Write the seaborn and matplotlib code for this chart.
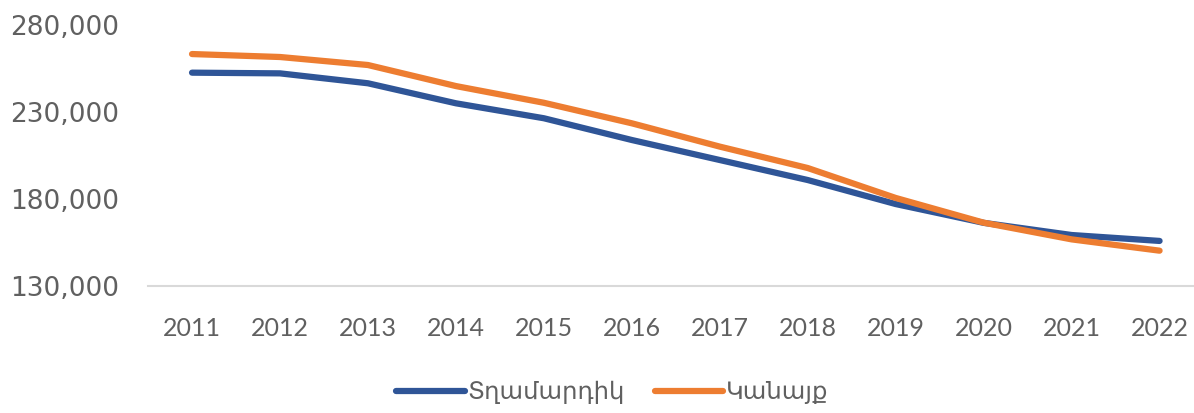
import matplotlib
matplotlib.use("Agg")
import matplotlib.pyplot as plt
import matplotlib.ticker as mticker
import seaborn as sns
import pandas as pd

years = ["2011", "2012", "2013", "2014", "2015", "2016", "2017", "2018", "2019", "2020", "2021", "2022"]
men = [252600, 252200, 246500, 235000, 226400, 213900, 202400, 190900, 177100, 166300, 159300, 155900]
women = [263300, 261600, 257000, 244900, 235300, 223500, 210100, 197800, 180600, 166400, 156800, 150300]
series_names = ["Տղամարդիկ", "Կանայք"]
colors = ["#2F5597", "#ED7D31"]

df = pd.DataFrame({
    "year": years * 2,
    "value": men + women,
    "series": [series_names[0]] * len(years) + [series_names[1]] * len(years),
})

sns.set_theme(style="white")
plt.rcParams["font.family"] = ["Lato", "DejaVu Sans"]

fig = plt.figure(figsize=(11.94, 4.13), dpi=100)
ax = fig.add_axes([0.124, 0.3075, 0.884, 0.632])

sns.lineplot(data=df, x="year", y="value", hue="series", palette=colors,
             linewidth=4.5, ax=ax, sort=False, legend=True)
for ln in ax.get_lines():
    ln.set_solid_capstyle("round")
    ln.set_solid_joinstyle("round")

ax.set_xlim(-0.5, 11.5)
ax.set_ylim(130000, 280000)
ax.set_yticks([130000, 180000, 230000, 280000])
ax.yaxis.set_major_formatter(mticker.FuncFormatter(lambda v, p: f"{int(v):,}"))
ax.set_xlabel("")
ax.set_ylabel("")
for s in ["top", "right", "left"]:
    ax.spines[s].set_visible(False)
ax.spines["bottom"].set_color("#D9D9D9")
ax.spines["bottom"].set_linewidth(1.5)
ax.tick_params(axis="y", length=0, pad=21, labelcolor="#606060")
ax.tick_params(axis="x", length=0, pad=22, labelsize=18, labelcolor="#606060")
for lbl in ax.get_yticklabels():
    lbl.set_fontfamily(["DejaVu Sans"])
    lbl.set_fontsize(19)
ax.grid(False)

handles, labels = ax.get_legend_handles_labels()
ax.get_legend().remove()
leg = fig.legend(handles, labels, loc="center", bbox_to_anchor=(0.513, 0.05), ncol=2,
                 frameon=False, handlelength=2.8, handletextpad=0.12,
                 columnspacing=1.25, prop={"family": ["DejaVu Sans"], "size": 17.5})
for t in leg.get_texts():
    t.set_color("#606060")
for h in leg.get_lines():
    h.set_linewidth(4.5)
    h.set_solid_capstyle("round")

fig.savefig("out.png", dpi=100)
